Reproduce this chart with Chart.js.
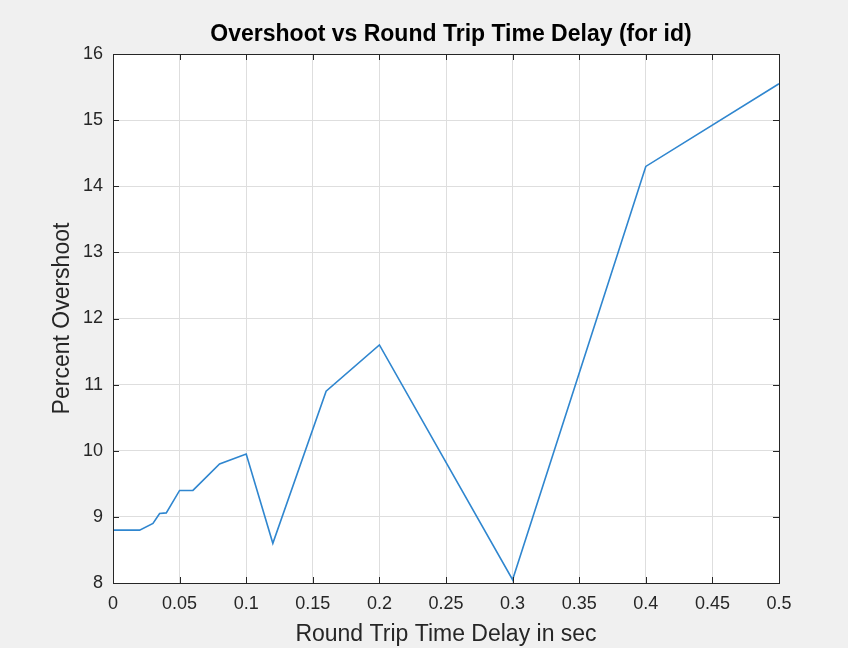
<!DOCTYPE html>
<html>
<head>
<meta charset="utf-8">
<script src="https://cdn.jsdelivr.net/npm/chart.js@4"></script>
<style>
  html, body { margin: 0; padding: 0; background: #f0f0f0; }
  #wrap { width: 848px; height: 648px; }
</style>
</head>
<body>
<div id="wrap"><canvas id="overshootChart" width="848" height="648"></canvas></div>
<script>
// data
const delays = [0, 0.02, 0.03, 0.035, 0.04, 0.05, 0.06, 0.08, 0.1, 0.12, 0.16, 0.2, 0.3, 0.4, 0.5];
const overshoot = [8.8, 8.8, 8.9, 9.05, 9.06, 9.4, 9.4, 9.8, 9.95, 8.6, 10.9, 11.6, 8.05, 14.3, 15.55];
const xTicks = [0, 0.05, 0.1, 0.15, 0.2, 0.25, 0.3, 0.35, 0.4, 0.45, 0.5];
const yTicks = [8, 9, 10, 11, 12, 13, 14, 15, 16];

const titleText = 'Overshoot vs Round Trip Time Delay (for id)';
const axisColor = '#262626';
const fontFamily = "'Liberation Sans', Arial, Helvetica, sans-serif";

// background, box, inward ticks and title (MATLAB look)
const matlabAxes = {
    id: 'matlabAxes',
    beforeDraw(chart) {
        const { ctx, chartArea: a } = chart;
        ctx.save();
        ctx.fillStyle = '#f0f0f0';
        ctx.fillRect(0, 0, chart.width, chart.height);
        ctx.fillStyle = '#ffffff';
        ctx.fillRect(a.left, a.top, a.right - a.left, a.bottom - a.top);
        ctx.restore();
    },
    afterDraw(chart) {
        const { ctx, chartArea: a, scales } = chart;
        const len = 6;
        ctx.save();
        ctx.strokeStyle = axisColor;
        ctx.lineWidth = 1;
        ctx.beginPath();
        xTicks.forEach(v => {
            const px = Math.round(scales.x.getPixelForValue(v)) + 0.5;
            ctx.moveTo(px, a.bottom); ctx.lineTo(px, a.bottom - len);
            ctx.moveTo(px, a.top); ctx.lineTo(px, a.top + len);
        });
        yTicks.forEach(v => {
            const py = Math.round(scales.y.getPixelForValue(v)) + 0.5;
            ctx.moveTo(a.left, py); ctx.lineTo(a.left + len, py);
            ctx.moveTo(a.right, py); ctx.lineTo(a.right - len, py);
        });
        ctx.stroke();
        ctx.strokeRect(Math.round(a.left) + 0.5, Math.round(a.top) + 0.5,
            Math.round(a.right - a.left), Math.round(a.bottom - a.top));

        ctx.fillStyle = '#000000';
        ctx.font = 'bold 23px ' + fontFamily;
        ctx.textAlign = 'center';
        ctx.textBaseline = 'middle';
        ctx.fillText(titleText, (a.left + a.right) / 2 + 5, a.top - 19);
        ctx.restore();
    }
};

const ctx = document.getElementById('overshootChart').getContext('2d');
new Chart(ctx, {
    type: 'line',
    data: {
        datasets: [{
            data: delays.map((d, i) => ({ x: d, y: overshoot[i] })),
            borderColor: '#2f86cf',
            borderWidth: 1.6,
            pointRadius: 0,
            tension: 0,
            fill: false
        }]
    },
    options: {
        responsive: false,
        animation: false,
        layout: { padding: { top: 54, right: 69, left: 0, bottom: 0 } },
        plugins: {
            legend: { display: false },
            tooltip: { enabled: false },
            title: { display: false }
        },
        scales: {
            x: {
                type: 'linear',
                min: 0,
                max: 0.5,
                afterFit: s => { s.height = 65; },
                afterBuildTicks: s => { s.ticks = xTicks.map(v => ({ value: v })); },
                grid: { color: '#dedede', drawTicks: false },
                border: { display: false },
                ticks: {
                    padding: 10,
                    color: axisColor,
                    font: { family: fontFamily, size: 18 },
                    maxRotation: 0,
                    callback: v => String(+v.toFixed(2))
                },
                title: {
                    display: true,
                    text: 'Round Trip Time Delay in sec',
                    color: axisColor,
                    font: { family: fontFamily, size: 23 },
                    padding: { top: 0, bottom: 0 }
                }
            },
            y: {
                type: 'linear',
                min: 8,
                max: 16,
                afterFit: s => { s.width = 113; },
                afterBuildTicks: s => { s.ticks = yTicks.map(v => ({ value: v })); },
                grid: { color: '#dedede', drawTicks: false },
                border: { display: false },
                ticks: {
                    padding: 10,
                    color: axisColor,
                    font: { family: fontFamily, size: 18 }
                },
                title: {
                    display: true,
                    text: 'Percent Overshoot',
                    color: axisColor,
                    font: { family: fontFamily, size: 23 },
                    padding: { top: 49, bottom: 0 }
                }
            }
        }
    },
    plugins: [matlabAxes]
});
</script>
</body>
</html>
